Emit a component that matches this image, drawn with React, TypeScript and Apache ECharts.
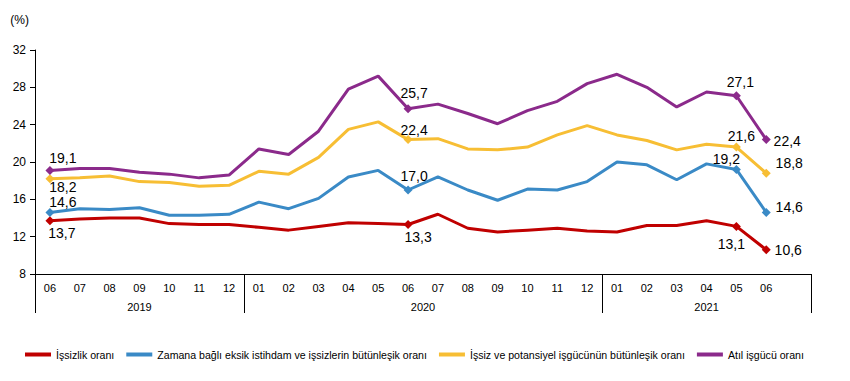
import React, { useEffect, useRef } from "react";
import * as echarts from "echarts";

const months: string[] = [
  "06", "07", "08", "09", "10", "11", "12",
  "01", "02", "03", "04", "05", "06", "07", "08", "09", "10", "11", "12",
  "01", "02", "03", "04", "05", "06", "",
];
const years: string[] = ["2019", "2020", "2021"];
const yearCenters: number[] = [3.5, 13, 22.5];
const yearBounds: number[] = [0, 7, 19, 26];

const seriesNames: string[] = [
  "İşsizlik oranı",
  "Zamana bağlı eksik istihdam ve işsizlerin bütünleşik oranı",
  "İşsiz ve potansiyel işgücünün bütünleşik oranı",
  "Atıl işgücü oranı",
];

const unemployment: number[] = [13.7, 13.9, 14.0, 14.0, 13.4, 13.3, 13.3, 13.0, 12.7, 13.1, 13.5, 13.4, 13.3, 14.4, 12.9, 12.5, 12.7, 12.9, 12.6, 12.5, 13.2, 13.2, 13.7, 13.1, 10.6];
const timeRelated: number[] = [14.6, 15.0, 14.9, 15.1, 14.3, 14.3, 14.4, 15.7, 15.0, 16.1, 18.4, 19.1, 17.0, 18.4, 17.0, 15.9, 17.1, 17.0, 17.9, 20.0, 19.7, 18.1, 19.8, 19.2, 14.6];
const potential: number[] = [18.2, 18.3, 18.5, 17.9, 17.8, 17.4, 17.5, 19.0, 18.7, 20.5, 23.5, 24.3, 22.4, 22.5, 21.4, 21.3, 21.6, 22.9, 23.9, 22.9, 22.3, 21.3, 21.9, 21.6, 18.8];
const underutil: number[] = [19.1, 19.3, 19.3, 18.9, 18.7, 18.3, 18.6, 21.4, 20.8, 23.3, 27.8, 29.2, 25.7, 26.2, 25.2, 24.1, 25.5, 26.5, 28.4, 29.4, 28.0, 25.9, 27.5, 27.1, 22.4];

const labelledIdx: number[] = [0, 12, 23, 24];

// label offsets (style) for each series at labelled points
const labelOffsets: number[][][] = [
  [[12, 12], [10, 12], [-5, 18], [22, 0]],
  [[13, -10], [6, -14], [-10, -10], [23, -5]],
  [[13, 8], [6, -10], [5, -11], [23, -10]],
  [[13, -12], [6, -16], [4, -14], [21, 1]],
];
const colors: string[] = ["#C00000", "#3A8AC6", "#F7BE34", "#8B2A8B"];

const FONT = "'Liberation Sans', Arial, sans-serif";

export default function App() {
  const ref = useRef<HTMLDivElement>(null);
  useEffect(() => {
    document.body.style.margin = "0";
    if (!ref.current) return;
    const chart = echarts.init(ref.current, undefined, { renderer: "svg" });
    const all = [unemployment, timeRelated, potential, underutil];
    const series = all.map((vals, si) => ({
      name: seriesNames[si],
      type: "line",
      xAxisIndex: 0,
      yAxisIndex: 0,
      z: 2 + si,
      lineStyle: { width: 3, color: colors[si] },
      itemStyle: { color: colors[si] },
      symbol: "none",
      data: vals.map((v, i) => {
        const k = labelledIdx.indexOf(i);
        if (k < 0) return { value: v, symbol: "none" };
        return {
          value: v,
          symbol: "diamond",
          symbolSize: 9,
          label: {
            show: true,
            position: "inside",
            offset: labelOffsets[si][k],
            align: "center",
            verticalAlign: "middle",
            color: "#000",
            fontSize: 14,
            fontFamily: FONT,
            textBorderWidth: 0,
            formatter: () => v.toFixed(1).replace(".", ","),
          },
        };
      }),
    }));
    chart.setOption({
      animation: false,
      backgroundColor: "#fff",
      color: colors,
      grid: { left: 35, right: 39, top: 50, bottom: 107 },
      legend: {
        left: 25,
        top: 349,
        padding: 0,
        icon: "rect",
        itemWidth: 26,
        itemHeight: 4,
        itemGap: 12,
        textStyle: { fontSize: 10.6, color: "#000", fontFamily: FONT },
        data: seriesNames,
      },
      xAxis: [
        {
          type: "category",
          data: months,
          boundaryGap: true,
          position: "bottom",
          axisLine: { show: true, lineStyle: { color: "#000", width: 1 } },
          axisTick: { show: false },
          axisLabel: { interval: 0, margin: 8, fontSize: 11, color: "#000", fontFamily: FONT },
          splitLine: { show: false },
        },
        {
          type: "value",
          min: 0,
          max: 26,
          position: "bottom",
          axisLine: { show: false },
          axisTick: {
            show: true,
            customValues: yearBounds,
            length: 39,
            lineStyle: { color: "#000", width: 1 },
          },
          axisLabel: {
            show: true,
            customValues: yearCenters,
            margin: 27,
            fontSize: 11,
            color: "#000",
            fontFamily: FONT,
            formatter: (val: number) => {
              const k = yearCenters.indexOf(val);
              return k >= 0 ? years[k] : "";
            },
          },
          splitLine: { show: false },
        },
      ],
      yAxis: {
        type: "value",
        min: 8,
        max: 32,
        interval: 4,
        name: "(%)",
        nameLocation: "end",
        nameGap: 24,
        nameTextStyle: { fontSize: 12, color: "#000", fontFamily: FONT, align: "right", padding: [0, 6, 0, 0] },
        axisLine: { show: true, lineStyle: { color: "#000", width: 1 } },
        axisTick: { show: true, length: 5, lineStyle: { color: "#000" } },
        axisLabel: { margin: 9, fontSize: 12, color: "#000", fontFamily: FONT },
        splitLine: { show: false },
      },
      series,
    });
    return () => chart.dispose();
  }, []);
  return <div ref={ref} style={{ width: 850, height: 381 }} />;
}
